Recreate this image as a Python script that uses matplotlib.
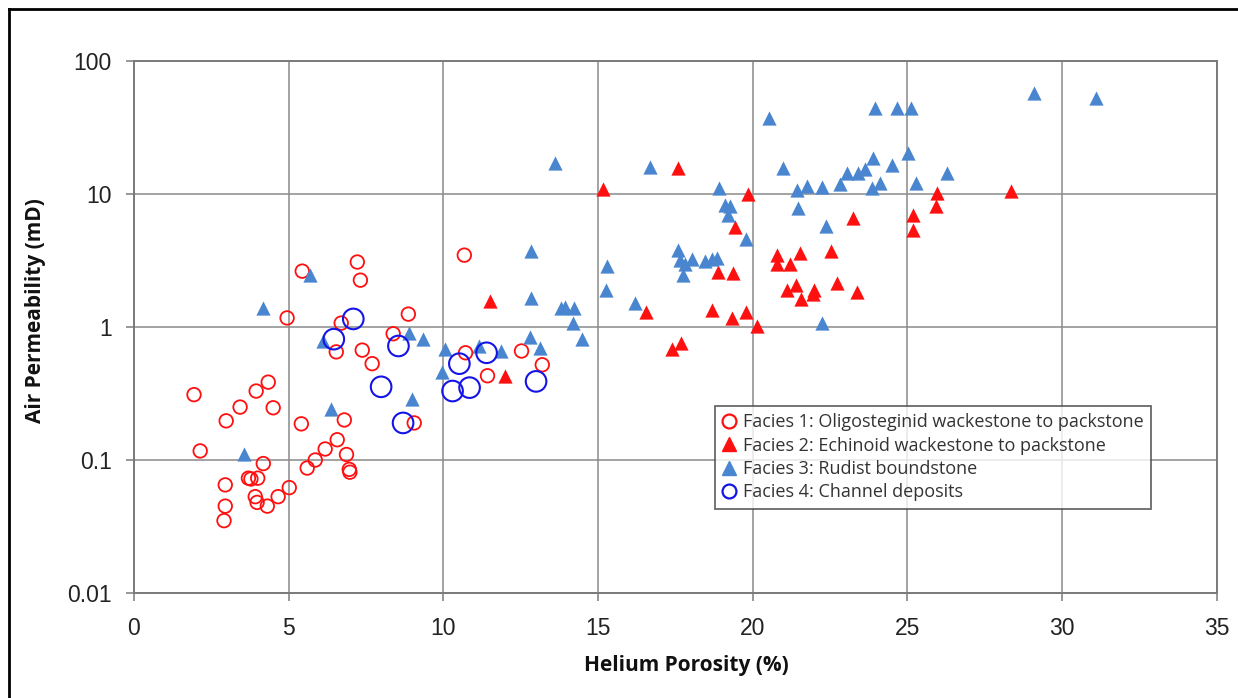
import matplotlib
matplotlib.use("Agg")
import matplotlib.pyplot as plt
from matplotlib.lines import Line2D
from matplotlib.ticker import FixedLocator, FixedFormatter, NullLocator

# ---- data ----
f1_x = [1.94, 2.14, 2.98, 3.43, 3.95, 4.34, 4.50, 2.95, 2.95, 2.91, 3.70, 3.78, 4.00, 3.92, 3.98,
        4.18, 4.31, 4.66, 5.02, 4.95, 5.44, 5.41, 5.60, 5.86, 6.18, 6.57, 6.54, 6.70, 6.80, 6.87,
        6.96, 6.98, 7.22, 7.32, 7.38, 7.70, 8.38, 8.87, 9.06, 10.68, 10.72, 11.43, 12.53, 13.20]
f1_y = [0.31, 0.117, 0.197, 0.25, 0.33, 0.385, 0.247, 0.065, 0.045, 0.035, 0.073, 0.072, 0.073, 0.053, 0.048,
        0.094, 0.045, 0.053, 0.062, 1.17, 2.63, 0.187, 0.087, 0.10, 0.121, 0.142, 0.65, 1.07, 0.20, 0.11,
        0.085, 0.081, 3.08, 2.25, 0.67, 0.53, 0.89, 1.25, 0.19, 3.47, 0.64, 0.43, 0.66, 0.52]

f2_x = [11.52, 11.98, 15.18, 16.57, 17.40, 17.70, 17.60, 18.70, 18.87, 19.33, 19.36, 19.42, 19.78, 20.14,
        19.85, 20.80, 20.80, 21.20, 21.53, 21.10, 21.40, 21.56, 21.98, 21.95, 22.53, 22.73, 23.24, 23.37,
        25.20, 25.20, 25.96, 25.93, 28.36]
f2_y = [1.57, 0.43, 10.9, 1.30, 0.68, 0.76, 15.8, 1.34, 2.6, 1.17, 2.54, 5.6, 1.30, 1.02,
        10.0, 3.5, 3.0, 3.0, 3.6, 1.9, 2.07, 1.62, 1.9, 1.77, 3.7, 2.14, 6.56, 1.83,
        6.9, 5.34, 10.1, 8.1, 10.6]

f3_x = [3.56, 4.18, 5.70, 6.12, 6.38, 8.90, 9.36, 8.99, 10.07, 9.97, 11.17, 11.88, 12.82, 12.82, 12.79,
        13.14, 13.60, 13.82, 13.95, 14.24, 14.20, 14.50, 15.30, 15.25, 16.19, 16.67, 17.60, 17.64, 17.80,
        18.03, 17.74, 18.45, 18.68, 18.84, 18.90, 19.10, 19.26, 19.20, 19.78, 20.52, 20.98, 21.43, 21.75,
        22.24, 21.46, 22.37, 22.24, 22.82, 23.05, 23.40, 23.63, 23.86, 24.12, 23.90, 24.50, 23.96, 24.67,
        25.12, 25.02, 25.28, 26.30, 29.10, 31.10]
f3_y = [0.11, 1.39, 2.46, 0.78, 0.24, 0.90, 0.81, 0.29, 0.68, 0.46, 0.72, 0.66, 3.7, 1.65, 0.84,
        0.70, 17.0, 1.39, 1.41, 1.39, 1.07, 0.81, 2.9, 1.9, 1.51, 15.9, 3.8, 3.2, 2.97,
        3.24, 2.45, 3.13, 3.24, 3.3, 11.0, 8.2, 8.1, 6.9, 4.6, 37.0, 15.8, 10.8, 11.4,
        11.2, 7.9, 5.7, 1.07, 11.8, 14.5, 14.5, 15.3, 11.0, 12.0, 18.5, 16.4, 44.0, 44.0,
        44.0, 20.5, 12.0, 14.5, 57.0, 53.0]

f4_x = [6.46, 7.09, 7.99, 8.55, 8.70, 10.30, 10.52, 10.85, 11.40, 13.00]
f4_y = [0.81, 1.15, 0.355, 0.72, 0.19, 0.33, 0.53, 0.35, 0.64, 0.39]

labels = ["Facies 1: Oligosteginid wackestone to packstone",
          "Facies 2: Echinoid wackestone to packstone",
          "Facies 3: Rudist boundstone",
          "Facies 4: Channel deposits"]

x_ticks = [0, 5, 10, 15, 20, 25, 30, 35]
y_ticks = [0.01, 0.1, 1, 10, 100]
y_tick_labels = ["0.01", "0.1", "1", "10", "100"]

RED = "#FF1010"
LBLUE = "#4A86CF"
DBLUE = "#1414E6"
GRID = "#8a8a8a"

fig = plt.figure(figsize=(12.38, 6.98), dpi=100)
ax = fig.add_axes([134 / 1238, 1 - 593 / 698, (1216.5 - 134) / 1238, (593 - 61) / 698])

ax.set_xscale("linear")
ax.set_yscale("log")
ax.set_xlim(0, 35)
ax.set_ylim(0.01, 100)

ax.scatter(f1_x, f1_y, s=95, marker="o", facecolors="none", edgecolors=RED, linewidths=1.3, zorder=3)
ax.scatter(f2_x, f2_y, s=105, marker="^", color=RED, linewidths=0, zorder=3)
ax.scatter(f3_x, f3_y, s=105, marker="^", color=LBLUE, linewidths=0, zorder=3)
ax.scatter(f4_x, f4_y, s=220, marker="o", facecolors="none", edgecolors=DBLUE, linewidths=1.5, zorder=4)

ax.xaxis.set_major_locator(FixedLocator(x_ticks))
ax.yaxis.set_major_locator(FixedLocator(y_ticks))
ax.yaxis.set_major_formatter(FixedFormatter(y_tick_labels))
ax.yaxis.set_minor_locator(NullLocator())
ax.xaxis.set_minor_locator(NullLocator())

ax.grid(True, which="major", color=GRID, linewidth=1.1)
ax.set_axisbelow(True)
for sp in ax.spines.values():
    sp.set_color("#7a7a7a")
    sp.set_linewidth(1.4)

ax.tick_params(axis="both", direction="out", length=6, width=1.1, color="#7a7a7a",
               labelsize=16.5, labelcolor="#222222")
ax.tick_params(axis="x", pad=11)
ax.tick_params(axis="y", pad=10)
for lab in ax.get_xticklabels() + ax.get_yticklabels():
    lab.set_fontfamily("Liberation Sans")

fig.text(686 / 1238, 1 - 666 / 698, "Helium Porosity (%)", ha="center", va="center",
         fontsize=15, fontweight="bold", family="Open Sans", color="#111111")
fig.text(36 / 1238, 1 - 311 / 698, "Air Permeability (mD)", ha="center", va="center",
         rotation=90, fontsize=15, fontweight="bold", family="Open Sans", color="#111111")

handles = [
    Line2D([], [], linestyle="none", marker="o", markersize=10, markerfacecolor="none",
           markeredgecolor=RED, markeredgewidth=1.6),
    Line2D([], [], linestyle="none", marker="^", markersize=10, color=RED),
    Line2D([], [], linestyle="none", marker="^", markersize=10, color=LBLUE),
    Line2D([], [], linestyle="none", marker="o", markersize=10, markerfacecolor="none",
           markeredgecolor=DBLUE, markeredgewidth=1.6),
]
leg = ax.legend(handles, labels, loc="upper left",
                bbox_to_anchor=((715 - 134) / (1216.5 - 134), (593 - 406) / (593 - 61)),
                frameon=True, fancybox=False, shadow=False, handlelength=0.7, handletextpad=0.45,
                borderpad=0.4, labelspacing=0.3, borderaxespad=0,
                prop={"family": "Open Sans", "size": 13})
leg.get_frame().set_edgecolor("#444444")
leg.get_frame().set_linewidth(1.3)
for t in leg.get_texts():
    t.set_color("#333333")

# figure border (left and top edges visible in the reference)
fig.add_artist(Line2D([8.5 / 1238, 8.5 / 1238], [0, 1 - 9 / 698], transform=fig.transFigure,
                      color="black", linewidth=2.0))
fig.add_artist(Line2D([8.5 / 1238, 1], [1 - 9 / 698, 1 - 9 / 698], transform=fig.transFigure,
                      color="black", linewidth=2.0))

fig.savefig("out.png", dpi=100)
